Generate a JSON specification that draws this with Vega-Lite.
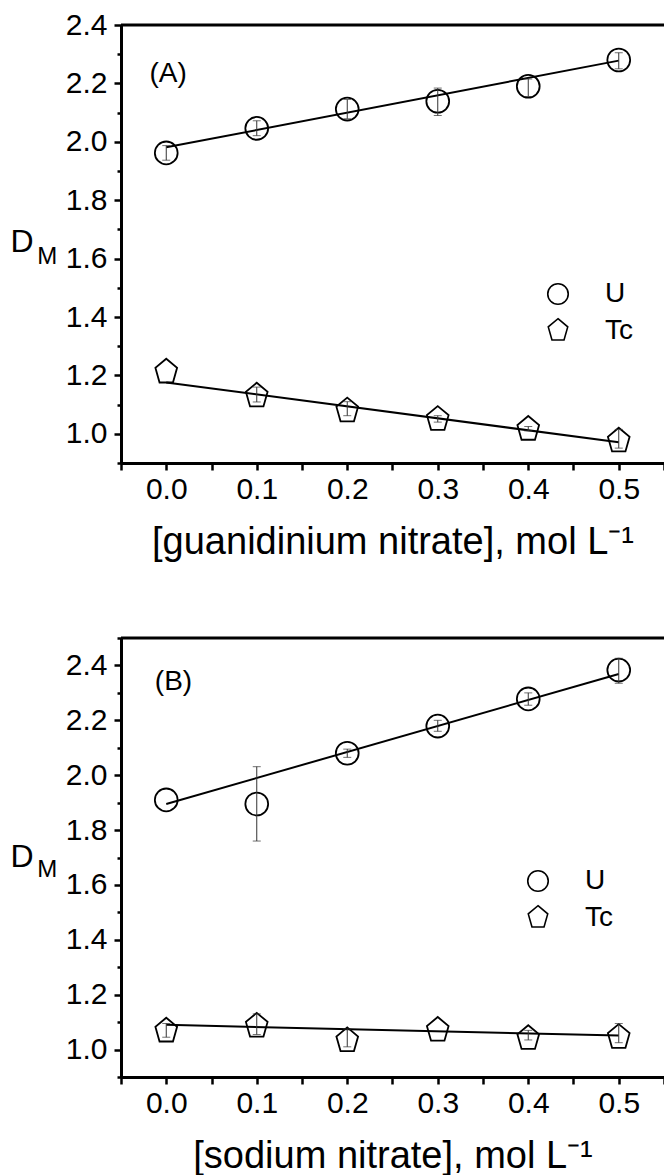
{
  "$schema": "https://vega.github.io/schema/vega-lite/v6.json",
  "autosize": {"type": "pad"},
  "padding": {"left": 9, "top": 9, "right": 1, "bottom": 5},
  "background": "white",
  "spacing": 175,
  "bounds": "flush",
  "config": {
    "font": "Liberation Sans",
    "view": {"stroke": "black", "strokeWidth": 1},
    "axis": {
      "domainWidth": 3, "domainColor": "black", "tickColor": "black", "tickWidth": 2.5, "tickSize": 7,
      "labelFontSize": 30, "labelColor": "black", "labelPadding": 7, "labelFont": "Liberation Sans",
      "grid": false, "titleFontSize": 38, "titleFontWeight": "normal", "titleColor": "black",
      "titleFont": "Liberation Sans", "labelOverlap": false, "labelFlush": false
    },
    "legend": {
      "labelFontSize": 28, "labelColor": "black", "labelFont": "Liberation Sans", "labelOffset": 33,
      "rowPadding": 7.5, "symbolSize": 420, "symbolStrokeWidth": 1.6, "symbolStrokeColor": "black",
      "padding": 0, "offset": 0
    }
  },
  "resolve": {"scale": {"shape": "independent"}, "legend": {"shape": "independent"}},
  "datasets": {
    "A_pts": [
      {"x": 0, "D": 1.962, "species": "U"}, {"x": 0.1, "D": 2.046, "species": "U"}, {"x": 0.2, "D": 2.112, "species": "U"},
      {"x": 0.3, "D": 2.139, "species": "U"}, {"x": 0.4, "D": 2.190, "species": "U"}, {"x": 0.5, "D": 2.280, "species": "U"},
      {"x": 0, "D": 1.212, "species": "Tc"}, {"x": 0.1, "D": 1.130, "species": "Tc"}, {"x": 0.2, "D": 1.079, "species": "Tc"},
      {"x": 0.3, "D": 1.050, "species": "Tc"}, {"x": 0.4, "D": 1.016, "species": "Tc"}, {"x": 0.5, "D": 0.976, "species": "Tc"}
    ],
    "A_err": [
      {"x": 0, "lo": 1.937, "hi": 1.987, "species": "U"}, {"x": 0.1, "lo": 2.021, "hi": 2.072, "species": "U"},
      {"x": 0.2, "lo": 2.079, "hi": 2.145, "species": "U"}, {"x": 0.3, "lo": 2.090, "hi": 2.184, "species": "U"},
      {"x": 0.4, "lo": 2.155, "hi": 2.215, "species": "U"}, {"x": 0.5, "lo": 2.250, "hi": 2.305, "species": "U"},
      {"x": 0.1, "lo": 1.109, "hi": 1.160, "species": "Tc"}, {"x": 0.2, "lo": 1.062, "hi": 1.110, "species": "Tc"},
      {"x": 0.3, "lo": 1.040, "hi": 1.062, "species": "Tc"}, {"x": 0.4, "lo": 1.010, "hi": 1.025, "species": "Tc"},
      {"x": 0.5, "lo": 0.951, "hi": 1.015, "species": "Tc"}
    ],
    "A_fit": [
      {"x": 0, "D": 1.981, "species": "U"}, {"x": 0.5, "D": 2.278, "species": "U"},
      {"x": 0, "D": 1.176, "species": "Tc"}, {"x": 0.5, "D": 0.971, "species": "Tc"}
    ],
    "B_pts": [
      {"x": 0, "D": 1.910, "species": "U"}, {"x": 0.1, "D": 1.895, "species": "U"}, {"x": 0.2, "D": 2.080, "species": "U"},
      {"x": 0.3, "D": 2.179, "species": "U"}, {"x": 0.4, "D": 2.278, "species": "U"}, {"x": 0.5, "D": 2.383, "species": "U"},
      {"x": 0, "D": 1.068, "species": "Tc"}, {"x": 0.1, "D": 1.086, "species": "Tc"}, {"x": 0.2, "D": 1.033, "species": "Tc"},
      {"x": 0.3, "D": 1.071, "species": "Tc"}, {"x": 0.4, "D": 1.041, "species": "Tc"}, {"x": 0.5, "D": 1.045, "species": "Tc"}
    ],
    "B_err": [
      {"x": 0.1, "lo": 1.760, "hi": 2.031, "species": "U"}, {"x": 0.2, "lo": 2.065, "hi": 2.095, "species": "U"},
      {"x": 0.3, "lo": 2.160, "hi": 2.200, "species": "U"}, {"x": 0.4, "lo": 2.255, "hi": 2.300, "species": "U"},
      {"x": 0.5, "lo": 2.335, "hi": 2.426, "species": "U"},
      {"x": 0, "lo": 1.045, "hi": 1.095, "species": "Tc"}, {"x": 0.1, "lo": 1.055, "hi": 1.130, "species": "Tc"},
      {"x": 0.2, "lo": 1.010, "hi": 1.075, "species": "Tc"}, {"x": 0.4, "lo": 1.035, "hi": 1.070, "species": "Tc"},
      {"x": 0.5, "lo": 1.025, "hi": 1.095, "species": "Tc"}
    ],
    "B_fit": [
      {"x": 0, "D": 1.895, "species": "U"}, {"x": 0.5, "D": 2.369, "species": "U"},
      {"x": 0, "D": 1.090, "species": "Tc"}, {"x": 0.5, "D": 1.051, "species": "Tc"}
    ],
    "one": [{"k": 1}]
  },
  "vconcat": [
    {
      "width": 543, "height": 438,
      "resolve": {"axis": {"y": "independent"}},
      "layer": [
        {
          "data": {"name": "A_pts"},
          "mark": {"type": "point", "filled": false, "color": "black", "strokeWidth": 1.8, "size": 520, "opacity": 1},
          "encoding": {
            "x": {
              "field": "x", "type": "quantitative", "title": "[guanidinium nitrate], mol L⁻¹",
              "scale": {"domain": [-0.05, 0.55], "nice": false, "zero": false},
              "axis": {
                "values": [-0.05, 0, 0.05, 0.1, 0.15, 0.2, 0.25, 0.3, 0.35, 0.4, 0.45, 0.5, 0.55],
                "labelExpr": "abs(datum.value*10-round(datum.value*10))<1e-6 ? format(datum.value,'.1f') : ''",
                "labelOverlap": false, "labelFlush": false, "labelPadding": 4,
                "titlePadding": 19,
                "encode": {"ticks": {"update": {"y2": {"signal": "abs(datum.value*10-round(datum.value*10))<1e-6 ? 7 : 4"}}}}
              }
            },
            "y": {
              "field": "D", "type": "quantitative", "title": null,
              "scale": {"domain": [0.9, 2.4], "nice": false, "zero": false},
              "axis": {"orient": "left", "values": [1.0, 1.2, 1.4, 1.6, 1.8, 2.0, 2.2, 2.4], "format": ".1f"}
            },
            "shape": {
              "field": "species", "type": "nominal",
              "scale": {"domain": ["U", "Tc"], "range": ["circle", "M0,-1.15L0.951,-0.355L0.588,0.93L-0.588,0.93L-0.951,-0.355Z"]},
              "legend": {"title": null, "orient": "none", "legendX": 423, "legendY": 255}
            }
          }
        },
        {
          "data": {"name": "one"},
          "mark": {"type": "rule", "strokeWidth": 3, "color": "black"},
          "encoding": {
            "y": {"datum": 2.4, "type": "quantitative", "title": null,
              "axis": {"orient": "left", "values": [0.9, 1.1, 1.3, 1.5, 1.7, 1.9, 2.1, 2.3], "labels": false, "domain": false, "tickSize": 4, "title": null}}
          }
        },
        {
          "data": {"name": "A_fit"},
          "mark": {"type": "line", "color": "black", "strokeWidth": 2},
          "encoding": {
            "x": {"field": "x", "type": "quantitative", "title": "[guanidinium nitrate], mol L⁻¹"},
            "y": {"field": "D", "type": "quantitative", "title": null, "axis": null},
            "detail": {"field": "species"}
          }
        },
        {
          "data": {"name": "A_err"},
          "mark": {"type": "errorbar", "ticks": {"size": 8}, "color": "#333", "thickness": 1},
          "encoding": {
            "x": {"field": "x", "type": "quantitative", "title": "[guanidinium nitrate], mol L⁻¹"},
            "y": {"field": "lo", "type": "quantitative", "title": null, "axis": null},
            "y2": {"field": "hi"},
            "detail": {"field": "species"}
          }
        },
        {
          "data": {"name": "one"},
          "mark": {"type": "text", "text": "(A)", "fontSize": 28, "align": "center", "baseline": "middle", "color": "black"},
          "encoding": {"x": {"datum": 0.002, "type": "quantitative"}, "y": {"datum": 2.232, "type": "quantitative", "axis": null}}
        },
        {
          "data": {"name": "one"},
          "mark": {"type": "text", "text": "D", "fontSize": 32, "align": "left", "baseline": "alphabetic", "color": "black"},
          "encoding": {"x": {"datum": -0.1721, "type": "quantitative"}, "y": {"datum": 1.622, "type": "quantitative", "axis": null}}
        },
        {
          "data": {"name": "one"},
          "mark": {"type": "text", "text": "M", "fontSize": 24, "align": "left", "baseline": "alphabetic", "color": "black"},
          "encoding": {"x": {"datum": -0.1426, "type": "quantitative"}, "y": {"datum": 1.582, "type": "quantitative", "axis": null}}
        }
      ]
    },
    {
      "width": 543, "height": 439,
      "resolve": {"axis": {"y": "independent"}},
      "layer": [
        {
          "data": {"name": "B_pts"},
          "mark": {"type": "point", "filled": false, "color": "black", "strokeWidth": 1.8, "size": 520, "opacity": 1},
          "encoding": {
            "x": {
              "field": "x", "type": "quantitative", "title": "[sodium nitrate], mol L⁻¹",
              "scale": {"domain": [-0.05, 0.55], "nice": false, "zero": false},
              "axis": {
                "values": [-0.05, 0, 0.05, 0.1, 0.15, 0.2, 0.25, 0.3, 0.35, 0.4, 0.45, 0.5, 0.55],
                "labelExpr": "abs(datum.value*10-round(datum.value*10))<1e-6 ? format(datum.value,'.1f') : ''",
                "labelOverlap": false, "labelFlush": false, "labelPadding": 4,
                "titlePadding": 19,
                "encode": {"ticks": {"update": {"y2": {"signal": "abs(datum.value*10-round(datum.value*10))<1e-6 ? 7 : 4"}}}}
              }
            },
            "y": {
              "field": "D", "type": "quantitative", "title": null,
              "scale": {"domain": [0.9, 2.5], "nice": false, "zero": false},
              "axis": {"orient": "left", "values": [1.0, 1.2, 1.4, 1.6, 1.8, 2.0, 2.2, 2.4], "format": ".1f"}
            },
            "shape": {
              "field": "species", "type": "nominal",
              "scale": {"domain": ["U", "Tc"], "range": ["circle", "M0,-1.15L0.951,-0.355L0.588,0.93L-0.588,0.93L-0.951,-0.355Z"]},
              "legend": {"title": null, "orient": "none", "legendX": 403, "legendY": 229}
            }
          }
        },
        {
          "data": {"name": "one"},
          "mark": {"type": "rule", "strokeWidth": 3, "color": "black"},
          "encoding": {
            "y": {"datum": 2.5, "type": "quantitative", "title": null,
              "axis": {"orient": "left", "values": [0.9, 1.1, 1.3, 1.5, 1.7, 1.9, 2.1, 2.3, 2.5], "labels": false, "domain": false, "tickSize": 4, "title": null}}
          }
        },
        {
          "data": {"name": "B_fit"},
          "mark": {"type": "line", "color": "black", "strokeWidth": 2},
          "encoding": {
            "x": {"field": "x", "type": "quantitative", "title": "[sodium nitrate], mol L⁻¹"},
            "y": {"field": "D", "type": "quantitative", "title": null, "axis": null},
            "detail": {"field": "species"}
          }
        },
        {
          "data": {"name": "B_err"},
          "mark": {"type": "errorbar", "ticks": {"size": 8}, "color": "#333", "thickness": 1},
          "encoding": {
            "x": {"field": "x", "type": "quantitative", "title": "[sodium nitrate], mol L⁻¹"},
            "y": {"field": "lo", "type": "quantitative", "title": null, "axis": null},
            "y2": {"field": "hi"},
            "detail": {"field": "species"}
          }
        },
        {
          "data": {"name": "one"},
          "mark": {"type": "text", "text": "(B)", "fontSize": 28, "align": "center", "baseline": "middle", "color": "black"},
          "encoding": {"x": {"datum": 0.008, "type": "quantitative"}, "y": {"datum": 2.34, "type": "quantitative", "axis": null}}
        },
        {
          "data": {"name": "one"},
          "mark": {"type": "text", "text": "D", "fontSize": 32, "align": "left", "baseline": "alphabetic", "color": "black"},
          "encoding": {"x": {"datum": -0.1721, "type": "quantitative"}, "y": {"datum": 1.667, "type": "quantitative", "axis": null}}
        },
        {
          "data": {"name": "one"},
          "mark": {"type": "text", "text": "M", "fontSize": 24, "align": "left", "baseline": "alphabetic", "color": "black"},
          "encoding": {"x": {"datum": -0.1426, "type": "quantitative"}, "y": {"datum": 1.630, "type": "quantitative", "axis": null}}
        }
      ]
    }
  ]
}
